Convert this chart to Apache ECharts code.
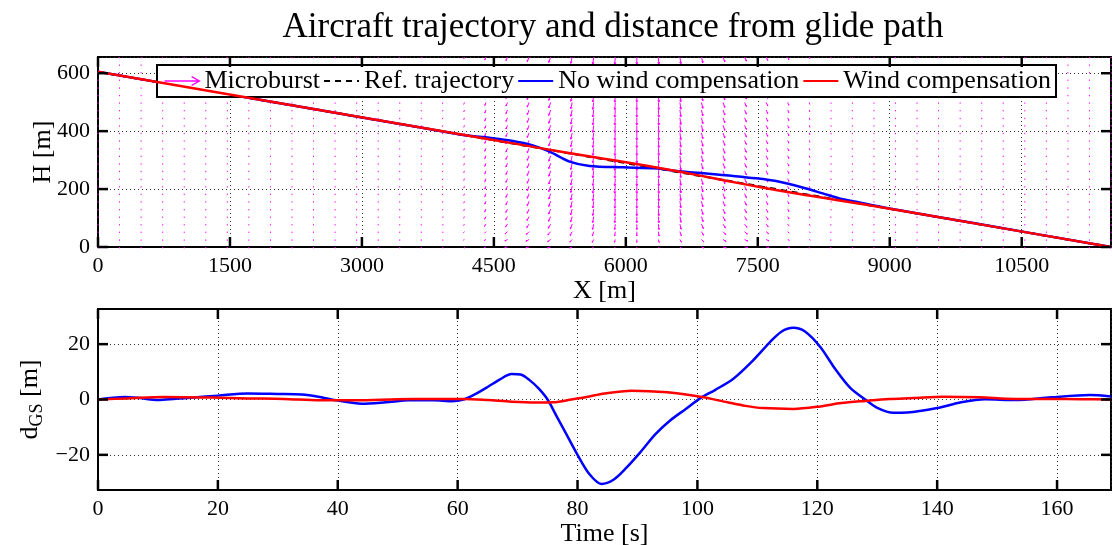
<!DOCTYPE html>
<html><head><meta charset="utf-8">
<script src="https://cdn.jsdelivr.net/npm/echarts@6/dist/echarts.min.js"></script>
<style>html,body{margin:0;padding:0;background:#fff}#c{width:1112px;height:545px}</style>
</head><body><div id="c"></div>
<script>
// ---------- data ----------
// Microburst wind field (quiver grid)
const quiverX = [0,245,490,735,980,1225,1470,1715,1960,2205,2450,2695,2940,3185,3430,3675,3920,4165,4410,4655,4900,5145,5390,5635,5880,6125,6370,6615,6860,7105,7350,7595,7840,8085,8330,8575,8820,9065,9310,9555,9800,10045,10290,10535,10780,11025,11270,11515];
const quiverH = [0,26,53,79,105,131,158,184,210,236,263,289,315,341,368,394,420,446,473,499,525,551,578,604,630,656];
// per-column wind (m/s): horizontal U, vertical W (negative = downward)
const windU = [0,0,0,0,0,0,0,0,0,0,0,0,0,0,0,-0.5,-1,-1.5,-2.5,-3.5,-4,-4,-3,-2,-1,0,1,2,3,4,4,3.5,2.5,1.5,1,0.5,0,0,0,0,0,0,0,0,0,0,0,0];
const windW = [-1.5,-1.5,-1.5,-1.5,-1.5,-1.5,-1.5,-1.5,-1.5,-1.5,-1.5,-1.5,-1.5,-2,-2,-2.5,-3,-4.5,-6.5,-8,-10,-12,-14,-15.5,-16,-16,-16,-15,-13,-11,-9,-7.5,-6,-4.5,-3,-2.5,-2,-1.5,-1.5,-1.5,-1.5,-1.5,-1.5,-1.5,-1.5,-1.5,-1.5,-1.5];
// per-row factors (ground -> top)
const profileU = [1.8,1.7,1.5,1.3,1.15,1.05,1,1,1,1,1,1,1,1,1,1,1,1,1,1,1,1,1,1,1,1];
const profileW = [0.15,0.4,0.6,0.75,0.85,0.92,0.97,1,1,1,1,1,1,1,1,1,1,1,1,1,1,1,1,1,1,1];

// Trajectories H(X)
const refX = [0, 11515];
const refH = [605, 0];
const noCompX = [0,1000,2000,3000,3700,4150,4450,4700,4943,5133,5360,5588,5966,6345,6573,6914,7482,7747,8050,8239,8428,8618,8997,10000,11515];
const noCompH = [605,552.5,500,447.4,411,387,377,367,351,329,295,280,275,271.7,262,254,237,225,202,185,168,156,133,80,0];
const compX = [0,4000,4754,5300,5750,6050,6460,6830,7140,7550,7890,8190,8700,9500,11515];
const compH = [605,395,356,327,305,290.3,268.2,247.3,229,205.3,187,172.3,147.4,105.8,0];

// Distance from glide path vs time
const tNoComp = [0,2,4.5,7,10,13,16,20,25,30,34,37,40,44,48,52,56,59,61,63,65,67,69,70.5,72,73.5,75,76.5,78,80,82,84,86,88,90.5,93,95.5,98,100.5,103,106,109,112,114,116,118,120.5,123,125.5,128,130,132.7,135,140,144,148,153,159,165.5,169];
const dNoComp = [0,0.5,0.9,0.5,-0.2,0.3,0.7,1.4,2.2,2.0,1.8,0.9,-0.4,-1.5,-1.0,-0.3,-0.3,-0.6,0,2,4.5,7.2,9.2,9.0,7,4,0,-6,-12,-20,-27,-30.5,-29,-25,-19,-12.5,-7.5,-3.5,0.5,3.5,7.5,13.5,20.5,24.5,25.9,24.5,19,11,4.2,0,-3,-4.8,-4.7,-3.1,-1,0.1,-0.2,0.8,1.6,1.1];
const tComp = [0,5,11,19,25,31,37,43,50,55,61,65,69,73,76,79,81.5,84.5,89,95,100.5,105,108,111,116,120.5,124,128,132,136,141,147,153,159,164,169];
const dComp = [0,0.4,0.9,0.7,0.4,0.2,-0.3,-0.3,0.1,0.2,0.2,-0.2,-0.8,-1.1,-1,0,0.9,2.2,3.2,2.6,1.0,-1.0,-2.3,-3.1,-3.4,-2.5,-1.3,-0.5,0.2,0.5,1.0,0.8,0.2,0.2,0.1,0];

// Axis ticks
const xTicksTopVals = [0,1500,3000,4500,6000,7500,9000,10500];
const yTicksTopVals = [0,200,400,600];
const tTicksVals = [0,20,40,60,80,100,120,140,160];
const dTicksVals = [-20,0,20];
const xTicksTop = 1500, yTicksTop = 200, tTicks = 20;

// ---------- chart ----------
const FONT = "'Liberation Serif','Times New Roman',serif";
const pairs = (xs, ys) => xs.map((x, i) => [x, ys[i]]);
const quiverData = [];
quiverH.forEach((h, j) => quiverX.forEach((x, k) => {
  quiverData.push([x, h, windU[k] * profileU[j], windW[k] * profileW[j]]);
}));
const ARROW_SCALE = 0.45; // px per m/s
const MAGENTA = '#ff00ff';
const TICK_LEN = 10;
const TICK_STYLE = {stroke: '#000', lineWidth: 2.5, fill: null};

function renderArrow(params, api) {
  const p = api.coord([api.value(0), api.value(1)]);
  let dx = api.value(2) * ARROW_SCALE;
  let dy = -api.value(3) * ARROW_SCALE;
  let len = Math.hypot(dx, dy);
  if (len < 1.3) { dx = 0; dy = 1.3; len = 1.3; }
  const x2 = p[0] + dx, y2 = p[1] + dy;
  const children = [{type: 'line', shape: {x1: p[0], y1: p[1], x2: x2, y2: y2},
    style: {stroke: MAGENTA, lineWidth: 1}}];
  if (len > 2.5) {
    const ang = Math.atan2(dy, dx);
    const hl = len * 0.3;
    [0.45, -0.45].forEach(a => {
      children.push({type: 'line', shape: {x1: x2, y1: y2,
        x2: x2 - hl * Math.cos(ang + a), y2: y2 - hl * Math.sin(ang + a)},
        style: {stroke: MAGENTA, lineWidth: 1}});
    });
  }
  return {type: 'group', children: children};
}

// inward tick marks on all four sides, positioned through the axes' scales
function xTickRenderer(params, api) {
  const cs = params.coordSys;
  const x = api.coord([api.value(0), api.value(1)])[0];
  const yb = cs.y + cs.height, yt = cs.y;
  return {type: 'group', children: [
    {type: 'line', shape: {x1: x, y1: yb, x2: x, y2: yb - TICK_LEN}, style: TICK_STYLE},
    {type: 'line', shape: {x1: x, y1: yt, x2: x, y2: yt + TICK_LEN}, style: TICK_STYLE}
  ]};
}
function yTickRenderer(params, api) {
  const cs = params.coordSys;
  const y = api.coord([api.value(0), api.value(1)])[1];
  const xl = cs.x, xr = cs.x + cs.width;
  return {type: 'group', children: [
    {type: 'line', shape: {x1: xl, y1: y, x2: xl + TICK_LEN, y2: y}, style: TICK_STYLE},
    {type: 'line', shape: {x1: xr, y1: y, x2: xr - TICK_LEN, y2: y}, style: TICK_STYLE}
  ]};
}

const lblStyle = {color: '#000', fontFamily: FONT, fontSize: 22};
const nameStyle = {color: '#000', fontFamily: FONT, fontSize: 26};
const splitStyle = {show: true, lineStyle: {color: '#333', width: 1, type: [1, 3]}};
const axLine = () => ({show: true, onZero: false, lineStyle: {color: '#000', width: 2}});
const minus = v => String(v).replace('-', '\u2212');

const option = {
  animation: false,
  backgroundColor: '#fff',
  title: {
    text: 'Aircraft trajectory and distance from glide path',
    left: 608, top: 5, textAlign: 'center',
    textStyle: {fontFamily: FONT, fontSize: 35, fontWeight: 'normal', color: '#000'}
  },
  legend: {
    left: 157, top: 65,
    orient: 'horizontal',
    selectedMode: false,
    backgroundColor: '#fff', borderColor: '#000', borderWidth: 2,
    padding: [3, 5, 3, 5],
    itemWidth: 35, itemHeight: 14, itemGap: 3,
    textStyle: {fontFamily: FONT, fontSize: 26, color: '#000'},
    data: [
      {name: 'Microburst', icon: 'path://M0,10L40,10M31,5L40,10L31,15',
        itemStyle: {color: 'none', borderColor: MAGENTA, borderWidth: 1.3, opacity: 1}},
      {name: 'Ref. trajectory', itemStyle: {opacity: 0}},
      {name: 'No wind compensation', itemStyle: {opacity: 0}},
      {name: 'Wind compensation', itemStyle: {opacity: 0}}
    ]
  },
  grid: [
    {left: 98, top: 57, width: 1013, height: 190, outerBoundsMode: 'none', containLabel: false,
      show: true, borderColor: '#000', borderWidth: 2, backgroundColor: 'transparent'},
    {left: 98, top: 309, width: 1013, height: 181, outerBoundsMode: 'none', containLabel: false,
      show: true, borderColor: '#000', borderWidth: 2, backgroundColor: 'transparent'}
  ],
  xAxis: [
    {gridIndex: 0, type: 'value', min: 0, max: 11515, interval: xTicksTop,
      name: 'X [m]', nameLocation: 'middle', nameGap: 28, nameTextStyle: nameStyle,
      axisLine: axLine(), axisTick: {show: false}, splitLine: splitStyle,
      axisLabel: Object.assign({margin: 8, formatter: v => (v % xTicksTop === 0 ? String(v) : '')}, lblStyle)},
    {gridIndex: 1, type: 'value', min: 0, max: 169, interval: tTicks,
      name: 'Time [s]', nameLocation: 'middle', nameGap: 26, nameTextStyle: nameStyle,
      axisLine: axLine(), axisTick: {show: false}, splitLine: splitStyle,
      axisLabel: Object.assign({margin: 8, formatter: v => (v % tTicks === 0 ? String(v) : '')}, lblStyle)}
  ],
  yAxis: [
    {gridIndex: 0, type: 'value', min: 0, max: 656, interval: yTicksTop,
      name: 'H [m]', nameLocation: 'middle', nameGap: 42, nameRotate: 90, nameMoveOverlap: false, nameTextStyle: nameStyle,
      axisLine: axLine(), axisTick: {show: false}, splitLine: splitStyle,
      axisLabel: Object.assign({margin: 8, formatter: v => (v % yTicksTop === 0 ? String(v) : '')}, lblStyle)},
    {gridIndex: 1, type: 'value', min: -32.7, max: 32.7,
      name: '{a|d}{b|GS}{a| [m]}', nameLocation: 'middle', nameGap: 52, nameRotate: 90, nameMoveOverlap: false,
      nameTextStyle: {color: '#000', rich: {a: {fontFamily: FONT, fontSize: 26, color: '#000'},
        b: {fontFamily: FONT, fontSize: 18, color: '#000', padding: [13, 0, 0, 0]}}},
      axisLine: axLine(),
      axisTick: {show: false, customValues: dTicksVals},
      splitLine: splitStyle,
      axisLabel: Object.assign({margin: 8, customValues: dTicksVals, formatter: minus}, lblStyle)}
  ],
  series: [
    {name: 'Microburst', type: 'custom', xAxisIndex: 0, yAxisIndex: 0, data: quiverData,
      renderItem: renderArrow, itemStyle: {color: MAGENTA}, z: 1, silent: true},
    {name: 'Ref. trajectory', type: 'line', xAxisIndex: 0, yAxisIndex: 0, data: pairs(refX, refH),
      symbol: 'none', lineStyle: {color: '#000', width: 2, type: [6, 5]}, itemStyle: {color: '#000'}, z: 2},
    {name: 'No wind compensation', type: 'line', xAxisIndex: 0, yAxisIndex: 0, data: pairs(noCompX, noCompH),
      symbol: 'none', smooth: 0.3, lineStyle: {color: '#0000ff', width: 2.5}, itemStyle: {color: '#0000ff'}, z: 3},
    {name: 'Wind compensation', type: 'line', xAxisIndex: 0, yAxisIndex: 0, data: pairs(compX, compH),
      symbol: 'none', smooth: 0.3, lineStyle: {color: '#ff0000', width: 2.5}, itemStyle: {color: '#ff0000'}, z: 4},
    {name: 'No wind compensation', type: 'line', xAxisIndex: 1, yAxisIndex: 1, data: pairs(tNoComp, dNoComp),
      symbol: 'none', smooth: 0.3, lineStyle: {color: '#0000ff', width: 2.5}, itemStyle: {color: '#0000ff'}, z: 3},
    {name: 'Wind compensation', type: 'line', xAxisIndex: 1, yAxisIndex: 1, data: pairs(tComp, dComp),
      symbol: 'none', smooth: 0.3, lineStyle: {color: '#ff0000', width: 2.5}, itemStyle: {color: '#ff0000'}, z: 4},
    // tick marks
    {name: 'xticks-top', type: 'custom', xAxisIndex: 0, yAxisIndex: 0, silent: true, z: 5, clip: false,
      data: xTicksTopVals.map(v => [v, 0]), renderItem: xTickRenderer},
    {name: 'yticks-top', type: 'custom', xAxisIndex: 0, yAxisIndex: 0, silent: true, z: 5, clip: false,
      data: yTicksTopVals.map(v => [0, v]), renderItem: yTickRenderer},
    {name: 'xticks-bot', type: 'custom', xAxisIndex: 1, yAxisIndex: 1, silent: true, z: 5, clip: false,
      data: tTicksVals.map(v => [v, 0]), renderItem: xTickRenderer},
    {name: 'yticks-bot', type: 'custom', xAxisIndex: 1, yAxisIndex: 1, silent: true, z: 5, clip: false,
      data: dTicksVals.map(v => [0, v]), renderItem: yTickRenderer}
  ]
};
const chart = echarts.init(document.getElementById('c'));
chart.setOption(option);
</script>
</body></html>
